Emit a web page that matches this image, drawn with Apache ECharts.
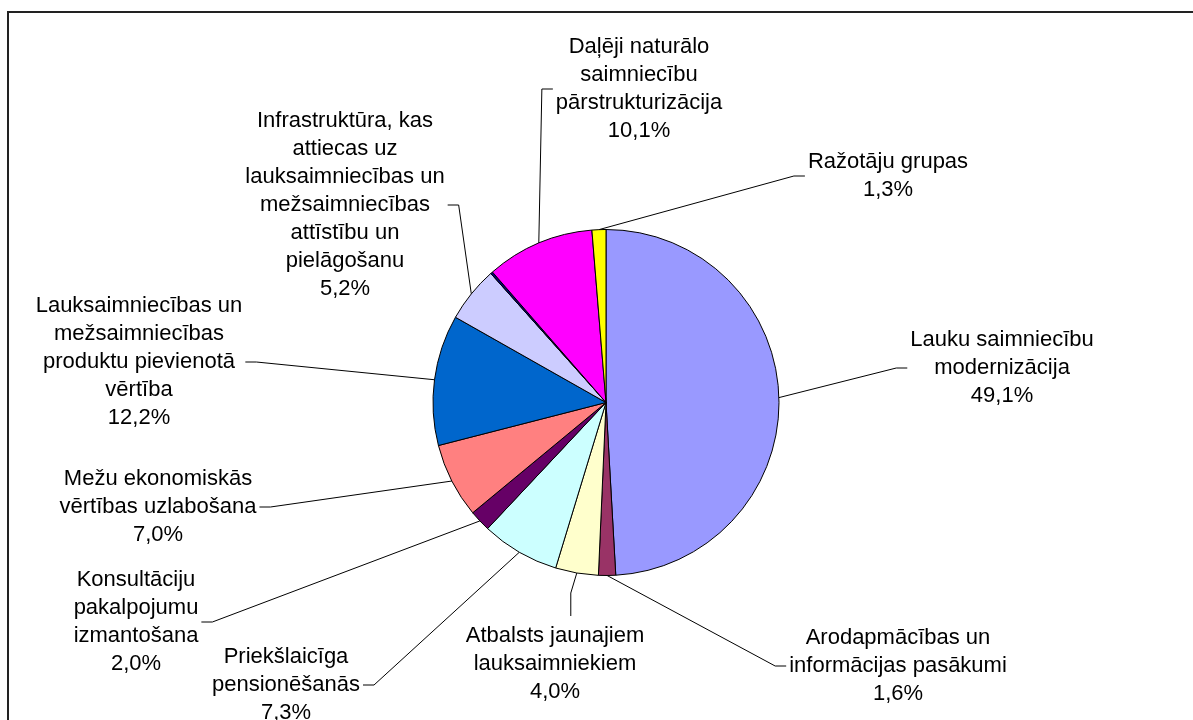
<!DOCTYPE html>
<html>
<head>
<meta charset="utf-8">
<script src="https://cdn.jsdelivr.net/npm/echarts@6/dist/echarts.min.js"></script>
<style>
  html, body { margin: 0; padding: 0; background: #fff; }
  #chart { width: 1193px; height: 720px; }
</style>
</head>
<body>
<div id="chart"></div>
<script>
// nosaukumi (ar rindu pārnesumiem kā attēlā)
var categories = [
  'Lauku saimniecību\nmodernizācija',
  'Arodapmācības un\ninformācijas pasākumi',
  'Atbalsts jaunajiem\nlauksaimniekiem',
  'Priekšlaicīga\npensionēšanās',
  'Konsultāciju\npakalpojumu\nizmantošana',
  'Mežu ekonomiskās\nvērtības uzlabošana',
  'Lauksaimniecības un\nmežsaimniecības\nproduktu pievienotā\nvērtība',
  'Infrastruktūra, kas\nattiecas uz\nlauksaimniecības un\nmežsaimniecības\nattīstību un\npielāgošanu',
  '',
  'Daļēji naturālo\nsaimniecību\npārstrukturizācija',
  'Ražotāju grupas'
];
// procenti
var shares = [49.1, 1.6, 4.0, 7.3, 2.0, 7.0, 12.2, 5.2, 0.2, 10.1, 1.3];

// krāsas (Excel palete)
var colors = ['#9999FF', '#993366', '#FFFFCC', '#CCFFFF', '#660066', '#FF8080',
              '#0066CC', '#CCCCFF', '#000080', '#FF00FF', '#FFFF00'];

// etiķešu centri un līnijas piesaistes puse
var labelSpots = [
  [1002, 368, 'l'],
  [898, 666, 'l'],
  [555, 664, 't'],
  [286, 685, 'r'],
  [136, 622, 'r'],
  [158, 507, 'r'],
  [139, 362, 'r'],
  [345, 205, 'r'],
  null,
  [639, 89, 'l'],
  [888, 176, 'l']
];

function fmt(v) {
  return v.toFixed(1).replace('.', ',') + '%';
}

var chart = echarts.init(document.getElementById('chart'));

var data = categories.map(function (name, i) {
  var item = { name: name, value: shares[i], itemStyle: { color: colors[i] } };
  if (!labelSpots[i]) {
    item.label = { show: false };
    item.labelLine = { show: false };
  }
  return item;
});

var option = {
  animation: false,
  backgroundColor: '#fff',
  graphic: [{
    type: 'rect',
    shape: { x: 8, y: 12, width: 1200, height: 730 },
    style: { fill: 'none', stroke: '#222', lineWidth: 2 },
    silent: true
  }],
  series: [{
    type: 'pie',
    center: [606, 402.5],
    radius: 173,
    startAngle: 90,
    clockwise: true,
    avoidLabelOverlap: false,
    itemStyle: { borderColor: '#000', borderWidth: 1 },
    label: {
      show: true,
      position: 'outside',
      color: '#000',
      fontFamily: 'Liberation Sans, Arial, sans-serif',
      fontSize: 22,
      lineHeight: 28,
      align: 'center',
      formatter: function (p) { return p.name + '\n' + fmt(p.value); }
    },
    labelLine: {
      show: true,
      length: 10,
      length2: 10,
      lineStyle: { color: '#000', width: 1 }
    },
    labelLayout: function (params) {
      var spot = labelSpots[params.dataIndex];
      if (!spot || !params.labelLinePoints) return;
      var w = params.labelRect.width, h = params.labelRect.height;
      var x0 = spot[0] - w / 2, y0 = spot[1] - h / 2;
      var start = params.labelLinePoints[0];
      var end, elbow;
      if (spot[2] === 'l') {
        end = [x0 - 3, spot[1]];
        elbow = [end[0] - 11, spot[1]];
      } else if (spot[2] === 'r') {
        end = [x0 + w + 3, spot[1]];
        elbow = [end[0] + 11, spot[1]];
      } else {
        end = [start[0] - 6, y0 - 6];
        elbow = [start[0] - 6, start[1] + 20];
      }
      return {
        x: spot[0],
        y: spot[1],
        align: 'center',
        verticalAlign: 'middle',
        labelLinePoints: [start, elbow, end]
      };
    },
    emphasis: { disabled: true },
    data: data
  }]
};

chart.setOption(option);
</script>
</body>
</html>
